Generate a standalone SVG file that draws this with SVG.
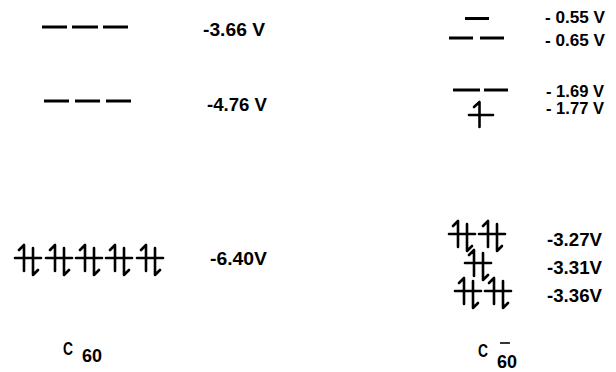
<svg xmlns="http://www.w3.org/2000/svg" xmlns:xlink="http://www.w3.org/1999/xlink" width="616" height="372" viewBox="0 0 616 372">
<style>
.lvl{stroke:#000;stroke-width:3;fill:none;stroke-linecap:butt}
.e{stroke:#000;stroke-width:2.6;fill:none;stroke-linecap:round;stroke-linejoin:round}
.t{font-family:"Liberation Sans",Arial,sans-serif;font-weight:bold;font-size:18.5px;fill:#000}
.s{font-size:16.5px}
</style>
<defs>
<g id="pair">
<line class="e" x1="-13" y1="0" x2="13" y2="0"/>
<path class="e" d="M-9,-8 L-4,-13 L-4,13"/>
<path class="e" d="M5,-10 L5,17 L10,12"/>
</g>
<g id="single">
<line class="e" x1="-12" y1="0" x2="12" y2="0"/>
<path class="e" d="M-7,-8 L-1.5,-13 L-1.5,12"/>
</g>
</defs>
<rect width="616" height="372" fill="#fff"/>
<g id="c60-lumo1">
<line class="lvl" x1="42" y1="27" x2="67" y2="27"/>
<line class="lvl" x1="72" y1="27" x2="98" y2="27"/>
<line class="lvl" x1="103" y1="27" x2="128" y2="27"/>
<text class="t" x="203" y="35.5" textLength="62" lengthAdjust="spacingAndGlyphs">-3.66 V</text>
</g>
<g id="c60-lumo2">
<line class="lvl" x1="44" y1="101" x2="69" y2="101"/>
<line class="lvl" x1="75" y1="101" x2="100" y2="101"/>
<line class="lvl" x1="106" y1="101" x2="131" y2="101"/>
<text class="t" x="207" y="110.5" textLength="60" lengthAdjust="spacingAndGlyphs">-4.76 V</text>
</g>
<g id="c60-homo">
<use xlink:href="#pair" x="28" y="258"/>
<use xlink:href="#pair" x="59" y="258"/>
<use xlink:href="#pair" x="89" y="258"/>
<use xlink:href="#pair" x="119" y="258"/>
<use xlink:href="#pair" x="150" y="258"/>
<text class="t" x="210" y="265" textLength="57" lengthAdjust="spacingAndGlyphs">-6.40V</text>
</g>
<g id="c60-label">
<text class="t" x="63" y="355" textLength="10" lengthAdjust="spacingAndGlyphs">C</text>
<text class="t" x="82" y="362" textLength="20" lengthAdjust="spacingAndGlyphs">60</text>
</g>
<g id="anion-055">
<line class="lvl" x1="465" y1="18.5" x2="489" y2="18.5"/>
<text class="t s" x="545" y="22.5" textLength="60" lengthAdjust="spacingAndGlyphs">- 0.55 V</text>
</g>
<g id="anion-065">
<line class="lvl" x1="449" y1="38" x2="473" y2="38"/>
<line class="lvl" x1="480" y1="38" x2="504" y2="38"/>
<text class="t s" x="545" y="45.5" textLength="60" lengthAdjust="spacingAndGlyphs">- 0.65 V</text>
</g>
<g id="anion-169">
<line class="lvl" x1="453" y1="90" x2="480" y2="90"/>
<line class="lvl" x1="484" y1="90" x2="508" y2="90"/>
<text class="t s" x="546" y="96.5" textLength="58" lengthAdjust="spacingAndGlyphs">- 1.69 V</text>
</g>
<g id="anion-177">
<use xlink:href="#single" x="481" y="115"/>
<text class="t s" x="546" y="113.5" textLength="58" lengthAdjust="spacingAndGlyphs">- 1.77 V</text>
</g>
<g id="anion-327">
<use xlink:href="#pair" x="462" y="234"/>
<use xlink:href="#pair" x="492" y="234"/>
<text class="t" x="547" y="246" textLength="55" lengthAdjust="spacingAndGlyphs">-3.27V</text>
</g>
<g id="anion-331">
<use xlink:href="#pair" x="478" y="263"/>
<text class="t" x="547" y="274" textLength="55" lengthAdjust="spacingAndGlyphs">-3.31V</text>
</g>
<g id="anion-336">
<use xlink:href="#pair" x="468" y="291"/>
<use xlink:href="#pair" x="498" y="291"/>
<text class="t" x="547" y="302" textLength="55" lengthAdjust="spacingAndGlyphs">-3.36V</text>
</g>
<g id="anion-label">
<text class="t" x="478" y="357" textLength="10" lengthAdjust="spacingAndGlyphs">C</text>
<line class="lvl" x1="500" y1="343" x2="510" y2="343" style="stroke-width:1.6"/>
<text class="t" x="497" y="368" textLength="20" lengthAdjust="spacingAndGlyphs">60</text>
</g>
<g id="connectors"/>
</svg>
